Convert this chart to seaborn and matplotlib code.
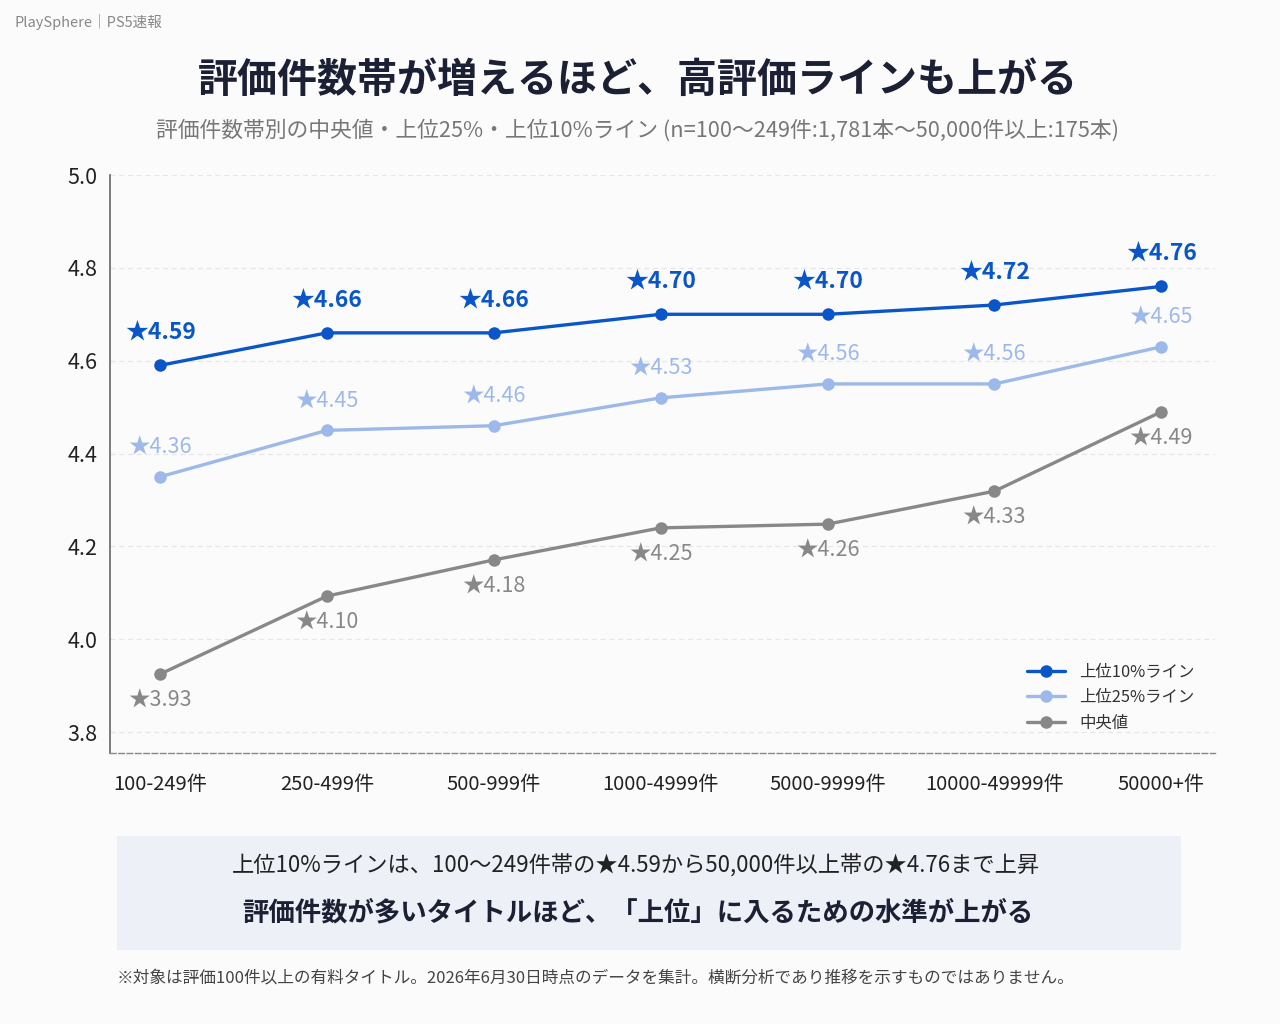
import matplotlib
matplotlib.use("Agg")
import matplotlib.pyplot as plt
import seaborn as sns
import pandas as pd
from matplotlib.patches import Rectangle

categories = ["100-249件", "250-499件", "500-999件", "1000-4999件", "5000-9999件", "10000-49999件", "50000+件"]
top10 = [4.59, 4.66, 4.66, 4.70, 4.70, 4.72, 4.76]
top25 = [4.35, 4.45, 4.46, 4.52, 4.55, 4.55, 4.63]
median = [3.925, 4.093, 4.171, 4.24, 4.248, 4.319, 4.49]
top10_labels = ["4.59", "4.66", "4.66", "4.70", "4.70", "4.72", "4.76"]
top25_labels = ["4.36", "4.45", "4.46", "4.53", "4.56", "4.56", "4.65"]
median_labels = ["3.93", "4.10", "4.18", "4.25", "4.26", "4.33", "4.49"]
series_names = ["上位10%ライン", "上位25%ライン", "中央値"]
yticks = [3.8, 4.0, 4.2, 4.4, 4.6, 4.8, 5.0]

title = "評価件数帯が増えるほど、高評価ラインも上がる"
subtitle = "評価件数帯別の中央値・上位25%・上位10%ライン (n=100〜249件:1,781本〜50,000件以上:175本)"
header = "PlaySphere｜PS5速報"
box_line1 = "上位10%ラインは、100〜249件帯の★4.59から50,000件以上帯の★4.76まで上昇"
box_line2 = "評価件数が多いタイトルほど、「上位」に入るための水準が上がる"
footnote = "※対象は評価100件以上の有料タイトル。2026年6月30日時点のデータを集計。横断分析であり推移を示すものではありません。"

C_TOP10 = "#0a56c9"
C_TOP25 = "#9cb9e9"
C_MED = "#888888"
BG = "#fbfbfc"

sns.set_theme(style="white")
plt.rcParams['font.family'] = ['Noto Sans CJK JP', 'DejaVu Sans']

rows = []
for name, vals in zip(series_names, [top10, top25, median]):
    for i, (c, v) in enumerate(zip(categories, vals)):
        rows.append({"x": i, "cat": c, "value": v, "series": name})
df = pd.DataFrame(rows)

fig = plt.figure(figsize=(12.8, 10.24), dpi=100, facecolor=BG)
ax = fig.add_axes([0.0859, 0.2646, 0.8631, 0.5645])
ax.set_facecolor(BG)

palette = {series_names[0]: C_TOP10, series_names[1]: C_TOP25, series_names[2]: C_MED}
sns.lineplot(data=df, x="x", y="value", hue="series", hue_order=series_names,
             palette=palette, marker="o", markersize=9, markeredgewidth=0,
             linewidth=2.4, ax=ax, sort=False)

ax.set_xlim(-0.30, 6.32)
ax.set_ylim(3.755, 5.0)
ax.set_yticks(yticks)
ax.set_yticklabels([f"{t:.1f}" for t in yticks], fontsize=15.5, color="#222222")
ax.set_xticks(range(len(categories)))
ax.set_xticklabels(categories, fontsize=14.5, color="#222222")
ax.set_xlabel("")
ax.set_ylabel("")
ax.tick_params(axis="y", length=5, width=1, color="#666666", pad=4)
ax.tick_params(axis="x", length=0, pad=15)

for yv in yticks:
    ax.axhline(yv, color="#e6e6e6", linewidth=0.9, linestyle=(0, (4, 3)), zorder=0)

for s in ["top", "right"]:
    ax.spines[s].set_visible(False)
ax.spines["left"].set_color("#666666")
ax.spines["left"].set_linewidth(1.2)
ax.spines["bottom"].set_color("#888888")
ax.spines["bottom"].set_linewidth(1.0)
ax.spines["bottom"].set_linestyle((0, (4, 2)))

for i in range(len(categories)):
    ax.annotate("★" + top10_labels[i], (i, top10[i]), xytext=(0, 23), textcoords="offset points",
                ha="center", va="center", fontsize=16.5, fontweight="bold", color=C_TOP10)
    ax.annotate("★" + top25_labels[i], (i, top25[i]), xytext=(0, 21), textcoords="offset points",
                ha="center", va="center", fontsize=15.5, color=C_TOP25)
    ax.annotate("★" + median_labels[i], (i, median[i]), xytext=(0, -19), textcoords="offset points",
                ha="center", va="center", fontsize=15.5, color=C_MED)

leg = ax.legend(loc="lower right", bbox_to_anchor=(0.995, 0.012), frameon=False, fontsize=11.8,
                handlelength=2.3, labelspacing=0.5, handletextpad=0.85)
for t in leg.get_texts():
    t.set_color("#333333")

fig.text(15 / 1280, 1 - 22 / 1024, header, fontsize=10.5, color="#888888", ha="left", va="center")
fig.text(0.498, 1 - 80 / 1024, title, fontsize=28.8, fontweight="bold", color="#1b2035", ha="center", va="center")
fig.text(0.498, 1 - 131 / 1024, subtitle, fontsize=15.7, color="#777777", ha="center", va="center")

box = Rectangle((117 / 1280, 1 - 950 / 1024), (1181 - 117) / 1280, (950 - 836) / 1024,
                transform=fig.transFigure, facecolor="#edf0f7", edgecolor="none", zorder=0)
fig.patches.append(box)
fig.text(0.497, 1 - 866 / 1024, box_line1, fontsize=16, color="#222222", ha="center", va="center")
fig.text(0.498, 1 - 913 / 1024, box_line2, fontsize=19, fontweight="bold", color="#1b2035",
         ha="center", va="center")
fig.text(117 / 1280, 1 - 978 / 1024, footnote, fontsize=12, color="#444444", ha="left", va="center")

fig.savefig("out.png", dpi=100, facecolor=BG)
